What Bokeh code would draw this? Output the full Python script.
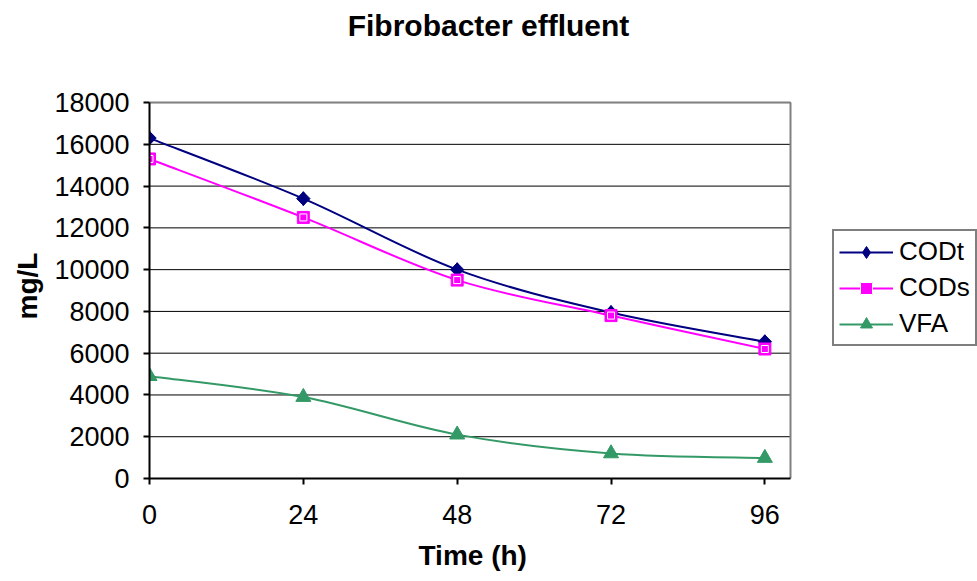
import numpy as np
from bokeh.plotting import figure
from bokeh.models import (ColumnDataSource, Legend, LegendItem, FixedTicker, Range1d,
                          Label, Title)
from bokeh.embed import file_html
from bokeh.resources import INLINE

# ---- data ----
time_h = [0, 24, 48, 72, 96]
codt = [16300, 13400, 10000, 7950, 6550]
cods = [15300, 12500, 9500, 7800, 6200]
vfa = [4900, 3900, 2100, 1200, 980]
x_ticks = [0, 24, 48, 72, 96]
y_ticks = [0, 2000, 4000, 6000, 8000, 10000, 12000, 14000, 16000, 18000]

X_MAX = 100      # axis extent
Y_MAX = 18000

FONT = "Liberation Sans"


def smooth_source(xs, ys):
    """Bezier segments through the data points (spreadsheet-style smoothed line)."""
    n = len(xs)
    d = dict(x0=[], y0=[], x1=[], y1=[], cx0=[], cy0=[], cx1=[], cy1=[])
    for i in range(n - 1):
        ip = max(i - 1, 0)
        inx = min(i + 2, n - 1)
        d["x0"].append(xs[i]); d["y0"].append(ys[i])
        d["x1"].append(xs[i + 1]); d["y1"].append(ys[i + 1])
        d["cx0"].append(xs[i] + (xs[i + 1] - xs[ip]) / 6.0)
        d["cy0"].append(ys[i] + (ys[i + 1] - ys[ip]) / 6.0)
        d["cx1"].append(xs[i + 1] - (xs[inx] - xs[i]) / 6.0)
        d["cy1"].append(ys[i + 1] - (ys[inx] - ys[i]) / 6.0)
    return ColumnDataSource(d)


# frame covers everything right of the y axis and above the x axis;
# the plotting area (0..100, 0..18000) occupies x 149..790 px, y 103..481 px
LEFT, RIGHT_AREA, BOTTOM = 149, 790, 100
FRAME_W = 977 - LEFT
FRAME_H = 581 - BOTTOM
AREA_TOP = 102.7
x_end = X_MAX * FRAME_W / (RIGHT_AREA - LEFT)
y_end = Y_MAX * FRAME_H / (FRAME_H - AREA_TOP)

p = figure(width=977, height=581, output_backend="svg", toolbar_location=None,
           title=None,
           x_range=Range1d(0, x_end), y_range=Range1d(0, y_end),
           min_border_left=LEFT, min_border_right=0,
           min_border_top=0, min_border_bottom=BOTTOM)
p.background_fill_color = "white"
p.border_fill_color = "white"
p.outline_line_color = None

# axes
for ax in (p.xaxis[0], p.yaxis[0]):
    ax.axis_line_color = "black"
    ax.axis_line_width = 2
    ax.major_tick_line_color = "black"
    ax.major_tick_line_width = 2
    ax.major_tick_in = 0
    ax.major_tick_out = 6
    ax.minor_tick_line_color = None
    ax.major_label_text_font = FONT
    ax.major_label_text_font_size = "27px"
    ax.major_label_text_color = "black"

p.xaxis.ticker = FixedTicker(ticks=x_ticks)
p.yaxis.ticker = FixedTicker(ticks=y_ticks)
p.xaxis.bounds = (0, X_MAX)
p.yaxis.bounds = (0, Y_MAX)
p.xaxis.major_label_standoff = 20
p.yaxis.major_label_standoff = 14

p.xgrid.visible = False
p.ygrid.visible = False

# axis titles, positioned along the plotting area
p.add_layout(Title(text="Time (h)", align="left", offset=418 - LEFT, standoff=22,
                   text_font=FONT, text_font_size="28px", text_font_style="bold",
                   text_color="black"), "below")
p.add_layout(Title(text="mg/L", align="left", offset=FRAME_H - 322, standoff=18,
                   text_font=FONT, text_font_size="28px", text_font_style="bold",
                   text_color="black"), "left")

# horizontal gridlines across the plotting area only
p.segment(x0=[0] * len(y_ticks), y0=y_ticks, x1=[X_MAX] * len(y_ticks), y1=y_ticks,
          line_color="black", line_width=1)
# grey top and right border of the plotting area
p.segment(x0=[0, X_MAX], y0=[Y_MAX, 0], x1=[X_MAX, X_MAX], y1=[Y_MAX, Y_MAX],
          line_color="#808080", line_width=2)

# series
NAVY = "#000080"
MAGENTA = "#FF00FF"
GREEN = "#339966"

s_codt = smooth_source(time_h, codt)
s_cods = smooth_source(time_h, cods)
s_vfa = smooth_source(time_h, vfa)

l_codt = p.bezier("x0", "y0", "x1", "y1", "cx0", "cy0", "cx1", "cy1", source=s_codt,
                  line_color=NAVY, line_width=2)
l_cods = p.bezier("x0", "y0", "x1", "y1", "cx0", "cy0", "cx1", "cy1", source=s_cods,
                  line_color=MAGENTA, line_width=2)
l_vfa = p.bezier("x0", "y0", "x1", "y1", "cx0", "cy0", "cx1", "cy1", source=s_vfa,
                 line_color=GREEN, line_width=2)

m_codt_leg = p.scatter(time_h, codt, marker="diamond", size=14,
                       fill_color=NAVY, line_color=NAVY)
m_codt = p.scatter(time_h, codt, marker="square", angle=np.pi / 4, size=9.5,
                   fill_color=NAVY, line_color=NAVY)
m_cods = p.scatter(time_h, cods, marker="square", size=12,
                   fill_color=MAGENTA, line_color=MAGENTA)
m_cods2 = p.scatter(time_h, cods, marker="square", size=7,
                    fill_color=None, line_color="white", line_width=1)
m_vfa = p.scatter(time_h, vfa, marker="triangle", size=15,
                  fill_color=GREEN, line_color=GREEN)

legend = Legend(items=[
    LegendItem(label="CODt", renderers=[l_codt, m_codt_leg]),
    LegendItem(label="CODs", renderers=[l_cods, m_cods, m_cods2]),
    LegendItem(label="VFA", renderers=[l_vfa, m_vfa]),
], location=(832 - LEFT, FRAME_H - 349))
legend.label_text_font = FONT
legend.label_text_font_size = "26px"
legend.label_text_color = "black"
legend.glyph_width = 54
legend.glyph_height = 30
legend.label_height = 30
legend.label_standoff = 6
legend.spacing = 5
legend.padding = 5
legend.margin = 0
legend.border_line_color = "black"
legend.border_line_width = 2
legend.background_fill_color = "white"
legend.background_fill_alpha = 1
p.add_layout(legend, "center")

# chart title
title = Label(x=(488 - LEFT) * x_end / FRAME_W, y=(FRAME_H - 25) * y_end / FRAME_H,
              text="Fibrobacter effluent", text_align="center", text_baseline="middle",
              text_font=FONT, text_font_size="30px", text_font_style="bold",
              text_color="black")
p.add_layout(title)

open("out.html", "w").write(file_html(p, INLINE))
